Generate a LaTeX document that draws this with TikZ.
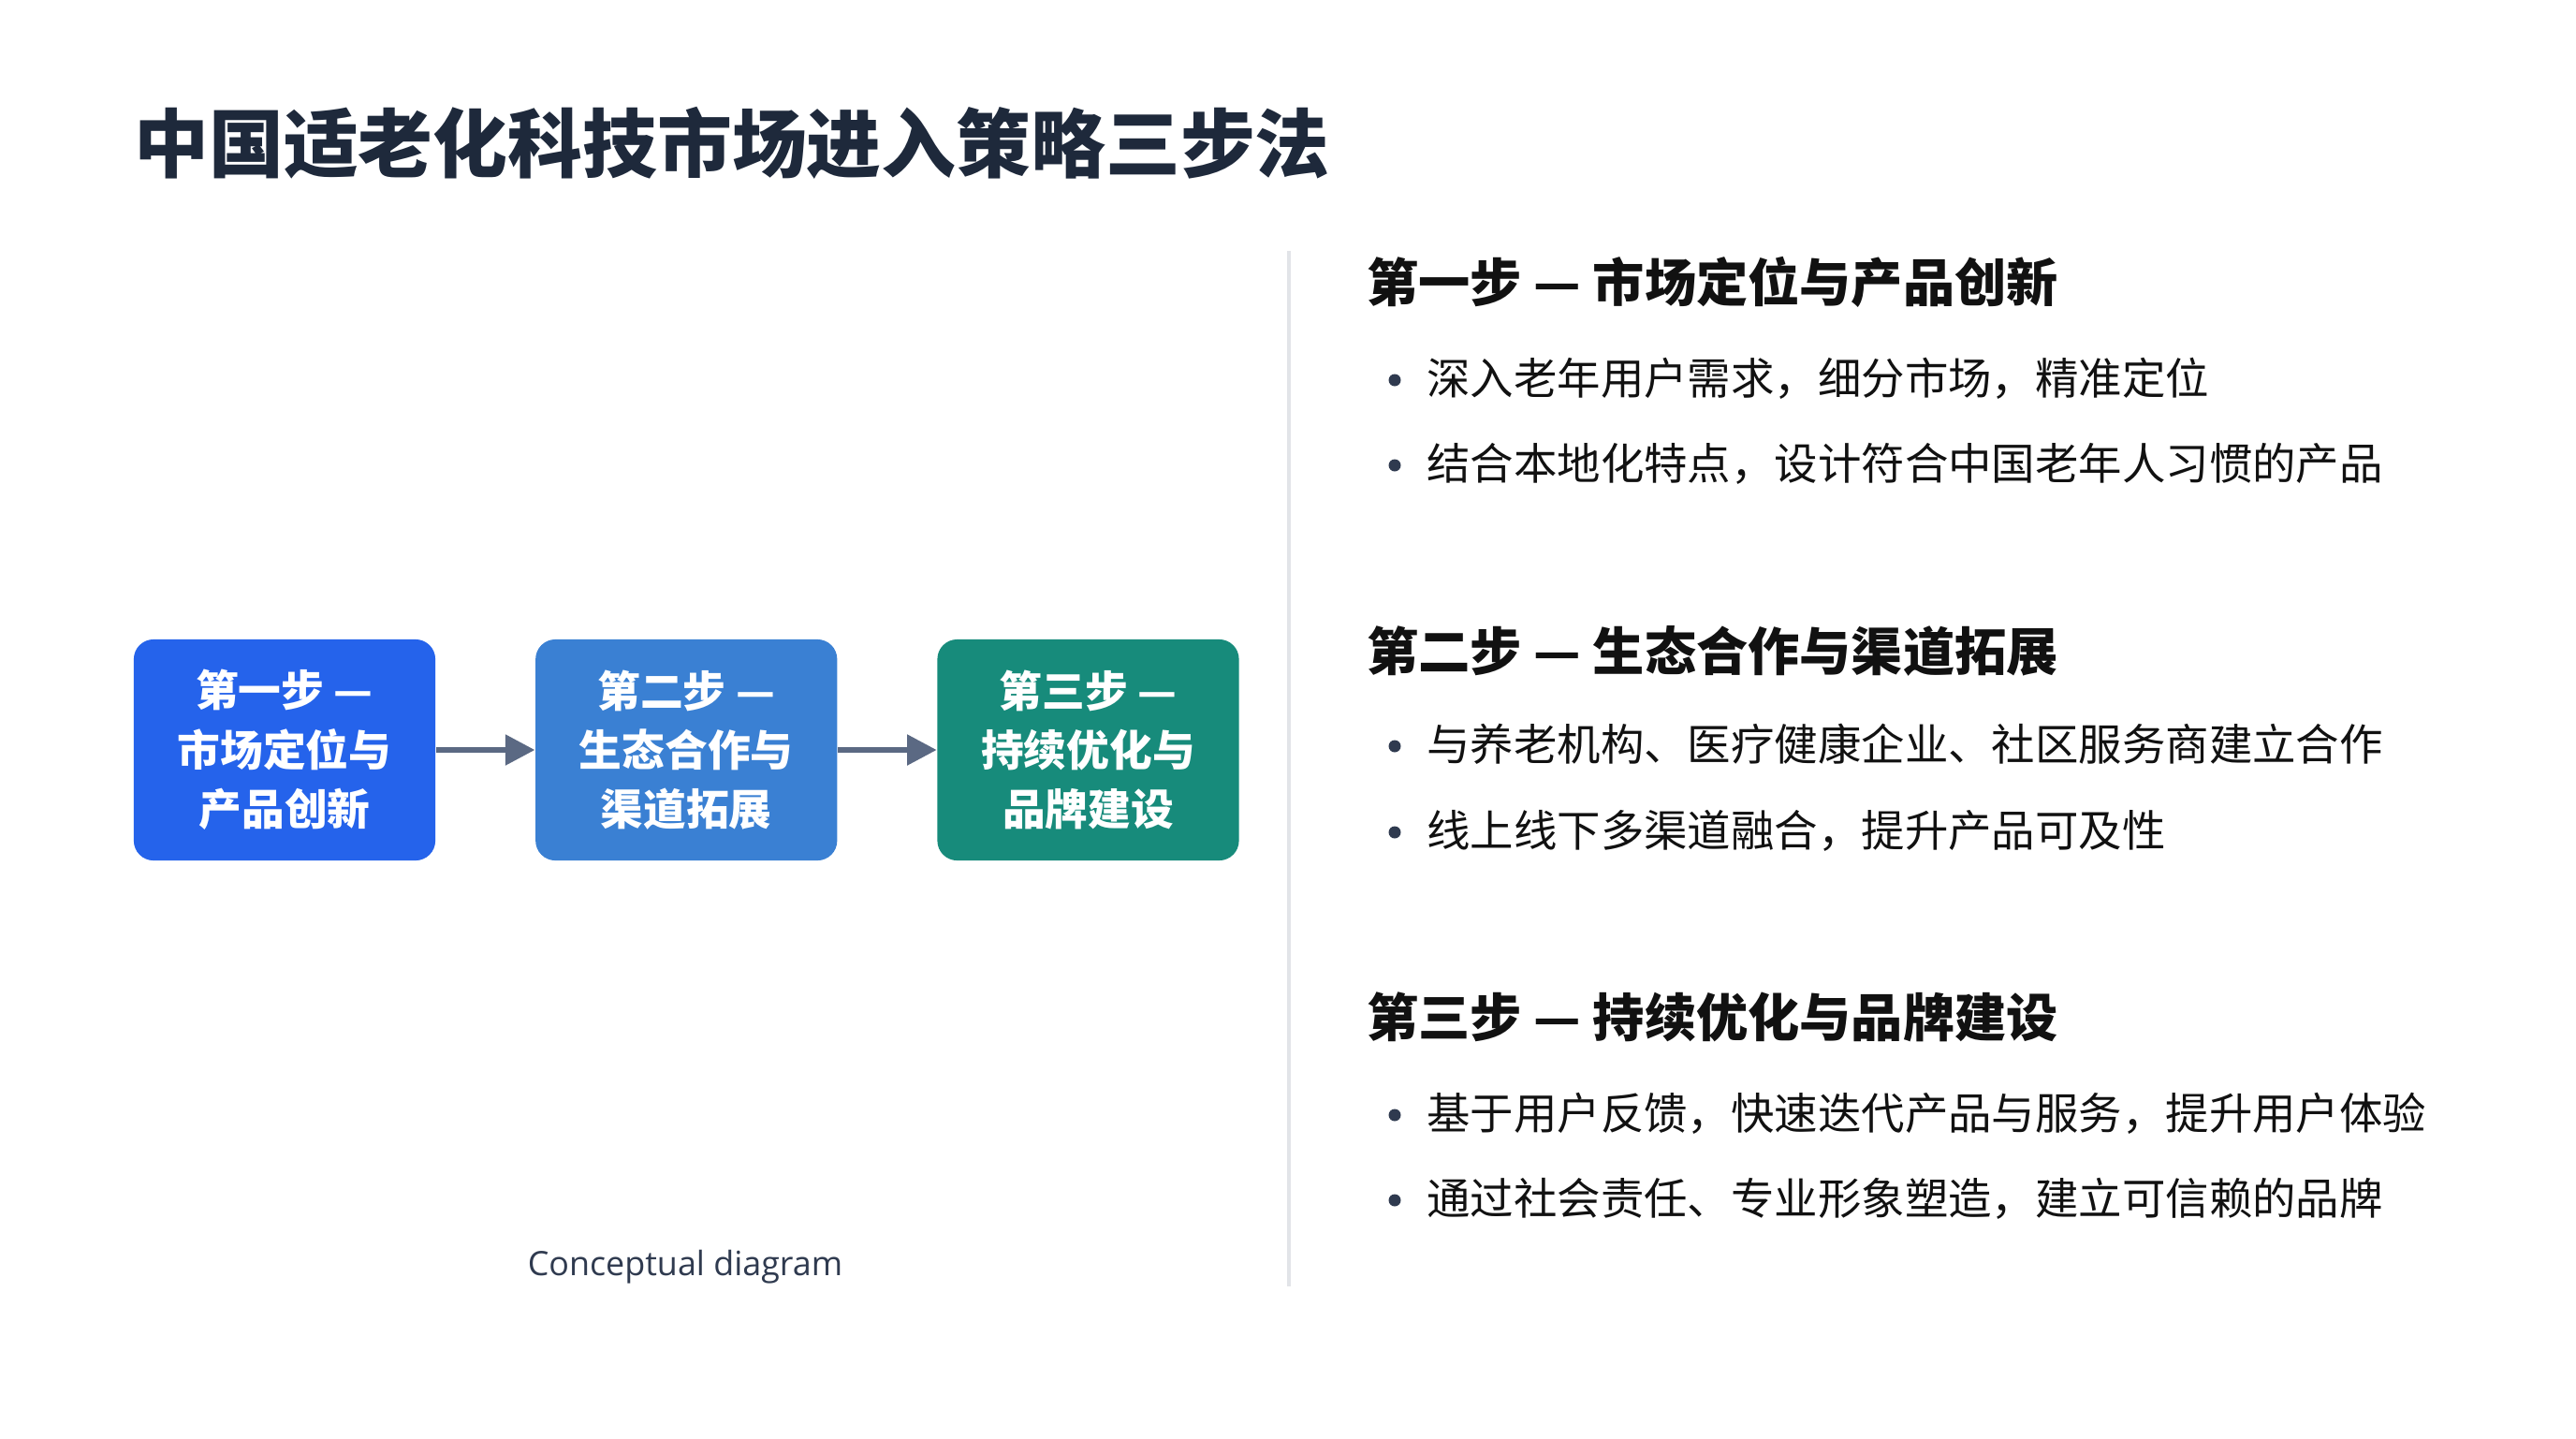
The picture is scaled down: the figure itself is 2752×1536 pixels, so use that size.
\documentclass[tikz,border=0pt]{standalone}
\usepackage{fontspec}
\setmainfont{Noto Sans CJK SC}
\newfontfamily\capfont{Open Sans}
\usetikzlibrary{arrows.meta, positioning}

\definecolor{titleink}{HTML}{1E293B}
\definecolor{bodyink}{HTML}{111111}
\definecolor{stepone}{HTML}{2563EB}
\definecolor{steptwo}{HTML}{3A80D3}
\definecolor{stepthree}{HTML}{178B7B}
\definecolor{flowgray}{HTML}{5B6983}
\definecolor{rulegray}{HTML}{E2E4E8}
\definecolor{dotink}{HTML}{2F3A4F}

\begin{document}
\begin{tikzpicture}[x=0.01cm, y=-0.01cm,
		stepbox/.style={rectangle,rounded corners=6pt,minimum width=3.22cm,minimum height=2.36cm,
			text=white,align=center,font=\fontsize{13}{18}\selectfont\bfseries},
		headline/.style={anchor=west,text=bodyink,font=\fontsize{15.7}{18}\selectfont\bfseries},
		pointline/.style={anchor=west,text=bodyink,font=\fontsize{13.2}{16}\selectfont},
		dot/.style={circle,fill=dotink,inner sep=0pt,minimum size=0.13cm},
		flow/.style={-{Triangle[length=9pt,width=9pt]},draw=flowgray,line width=1.8pt}
		]
		\useasboundingbox[fill=white] (0,0) rectangle (2752,1536);

		% title
		\node[anchor=west,text=titleink,font=\fontsize{22.7}{26}\selectfont\bfseries](T0) at (131,153){中国适老化科技市场进入策略三步法};

		% three steps
		\node[stepbox,fill=stepone](S0) at (304,801){第一步 —\\市场定位与\\产品创新};
		\node[stepbox,fill=steptwo,right of = S0,node distance=4.29cm](S1){第二步 —\\生态合作与\\渠道拓展};
		\node[stepbox,fill=stepthree,right of = S1,node distance=4.29cm](S2){第三步 —\\持续优化与\\品牌建设};
		\draw[flow] (S0) -- (S1);
		\draw[flow] (S1) -- (S2);

		\node[text=dotink,font=\capfont\fontsize{10.2}{12}\selectfont](C0) at (732,1353){Conceptual diagram};

		% divider
		\coordinate (D0) at (1377,268);
		\coordinate (D1) at (1377,1374);
		\draw[rulegray,line width=1pt] (D0) -- (D1);

		% right column
		\node[headline](H1) at (1448,301){第一步 — 市场定位与产品创新};
		\node[dot](B11) at (1490,406){};
		\node[pointline](P11) at (1512,404){深入老年用户需求，细分市场，精准定位};
		\node[dot](B12) at (1490,497){};
		\node[pointline](P12) at (1512,495){结合本地化特点，设计符合中国老年人习惯的产品};

		\node[headline](H2) at (1448,695){第二步 — 生态合作与渠道拓展};
		\node[dot](B21) at (1490,797){};
		\node[pointline](P21) at (1512,795){与养老机构、医疗健康企业、社区服务商建立合作};
		\node[dot](B22) at (1490,889){};
		\node[pointline](P22) at (1512,887){线上线下多渠道融合，提升产品可及性};

		\node[headline](H3) at (1448,1086){第三步 — 持续优化与品牌建设};
		\node[dot](B31) at (1490,1191){};
		\node[pointline](P31) at (1512,1189){基于用户反馈，快速迭代产品与服务，提升用户体验};
		\node[dot](B32) at (1490,1282){};
		\node[pointline](P32) at (1512,1280){通过社会责任、专业形象塑造，建立可信赖的品牌};

	\end{tikzpicture}
\end{document}
